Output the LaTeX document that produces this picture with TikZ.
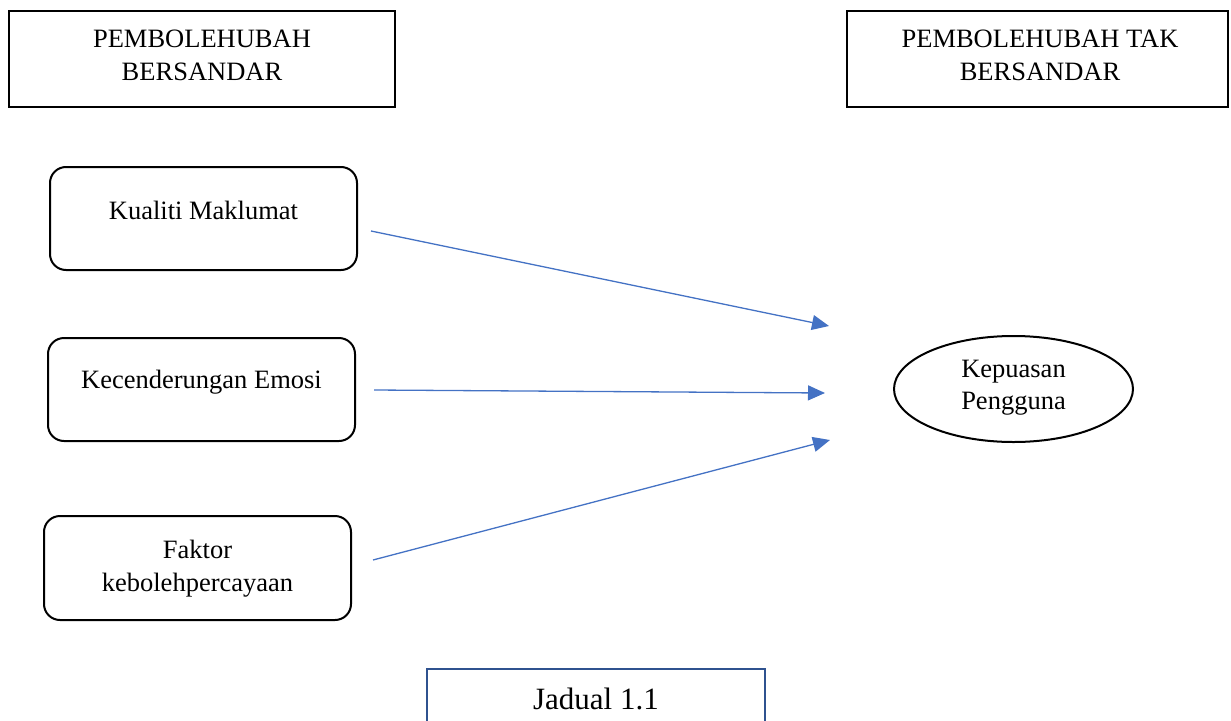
\documentclass[tikz,border=0pt]{standalone}
\usepackage{fontspec}
\setmainfont{Liberation Serif}
\usetikzlibrary{arrows.meta,shapes.geometric}
\definecolor{arrowblue}{RGB}{68,114,196}
\definecolor{capblue}{RGB}{47,82,143}
\begin{document}
\begin{tikzpicture}[x=1pt,y=-1pt,
  txt/.style={font=\fontsize{26.5}{33}\selectfont, align=center, inner sep=0pt},
  headbox/.style={draw=black, line width=2pt, minimum width=386pt, minimum height=96pt, inner sep=0pt},
  varbox/.style={draw=black, line width=2pt, rounded corners=16pt, minimum width=307pt, minimum height=103pt, inner sep=0pt},
  conn/.style={draw=arrowblue, line width=1.3pt, -{Triangle[length=17pt,width=15pt]}}
]
\useasboundingbox (0,0) rectangle (1231,720);
% header boxes
\node[headbox] (dep) at (202,59) {};
\node[txt, anchor=north] (deptxt) at (202,30) {PEMBOLEHUBAH\\BERSANDAR};
\node[headbox, minimum width=381pt] (indep) at (1037.5,59) {};
\node[txt, anchor=north] (indeptxt) at (1040,30) {PEMBOLEHUBAH TAK\\BERSANDAR};
% variable boxes
\node[varbox] (kual) at (203.5,218.5) {};
\node[txt] (kualtxt) at (203.5,210) {Kualiti Maklumat};
\node[varbox] (emo) at (201.5,389.5) {};
\node[txt] (emotxt) at (201.5,382) {Kecenderungan Emosi};
\node[varbox, minimum height=104pt] (fak) at (197.5,568) {};
\node[txt, anchor=north] (faktxt) at (197.5,540) {Faktor\\kebolehpercayaan};
% outcome
\node[ellipse, draw=black, line width=2pt, minimum width=239pt, minimum height=106pt, inner sep=0pt] (kep) at (1013.5,389) {};
\node[txt, anchor=north, font=\fontsize{26.5}{32}\selectfont] (keptxt) at (1013.5,360) {Kepuasan\\Pengguna};
% connectors
\coordinate (a1s) at (371,231);
\coordinate (a1e) at (829,326);
\coordinate (a2s) at (374,390);
\coordinate (a2e) at (825,393);
\coordinate (a3s) at (373,560);
\coordinate (a3e) at (830,440);
\draw[conn] (a1s) -- (a1e);
\draw[conn] (a2s) -- (a2e);
\draw[conn] (a3s) -- (a3e);
% caption
\draw[capblue, line width=2pt] (427,740) -- (427,669) -- (765,669) -- (765,740);
\node[txt, font=\fontsize{31}{36}\selectfont, anchor=center] (cap) at (596,699) {Jadual 1.1};
\end{tikzpicture}
\end{document}
